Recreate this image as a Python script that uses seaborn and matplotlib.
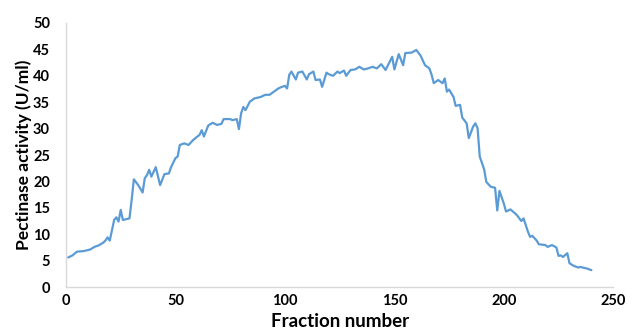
import matplotlib
matplotlib.use("Agg")
import matplotlib.pyplot as plt
import seaborn as sns
import pandas as pd

# Elution profile: fraction number vs. pectinase activity (U/ml)
fraction = [1, 3, 5, 8, 11, 13, 15, 17, 18, 19, 20, 22, 23, 24, 25, 26, 29, 30, 31, 33,
            35, 36, 37, 38, 39, 41, 43, 45, 47, 48, 50, 51, 52, 54, 56, 58, 60, 61, 62, 63,
            65, 67, 69, 71, 72, 75, 76, 78, 79, 80, 81, 82, 84, 86, 89, 91, 93, 95, 97, 98,
            100, 101, 102, 103, 105, 106, 108, 110, 111, 113, 114, 116, 117, 119, 120, 122,
            124, 125, 127, 128, 130, 132, 134, 136, 138, 140, 142, 144, 146, 149, 150, 152,
            154, 155, 158, 160, 162, 164, 166, 167, 168, 170, 172, 173, 174, 175, 177, 178,
            180, 181, 183, 184, 186, 187, 188, 189, 191, 192, 194, 196, 197, 198, 200, 201,
            203, 205, 206, 208, 209, 211, 212, 213, 215, 216, 219, 220, 222, 224, 225, 226,
            227, 229, 230, 232, 234, 235, 238, 240]
activity = [5.6, 6.0, 6.7, 6.8, 7.1, 7.6, 7.9, 8.4, 8.8, 9.4, 8.8, 12.7, 13.2, 12.4, 14.6,
            12.7, 13.0, 16.5, 20.4, 19.3, 17.9, 20.6, 21.2, 22.2, 20.9, 22.7, 19.3, 21.4,
            21.5, 22.7, 24.4, 24.7, 26.9, 27.2, 26.9, 27.8, 28.5, 28.8, 29.7, 28.5, 30.6,
            31.1, 30.7, 30.9, 31.8, 31.8, 31.6, 31.8, 29.9, 32.9, 34.1, 33.5, 35.1, 35.7,
            36.0, 36.4, 36.4, 37.0, 37.6, 37.8, 38.1, 37.6, 40.2, 40.8, 39.3, 40.6, 40.8,
            39.3, 40.3, 40.8, 39.2, 39.3, 37.9, 40.6, 40.3, 40.0, 40.8, 40.5, 41.0, 40.0,
            41.1, 41.2, 41.7, 41.2, 41.4, 41.7, 41.4, 42.2, 41.1, 43.6, 41.2, 44.1, 42.0,
            44.3, 44.4, 44.9, 43.8, 42.0, 41.4, 40.2, 38.6, 39.2, 38.6, 39.5, 37.0, 37.4,
            36.0, 34.3, 34.5, 32.1, 31.0, 28.2, 30.4, 31.0, 30.1, 24.7, 22.3, 19.9, 19.0,
            18.8, 14.5, 18.2, 15.8, 14.3, 14.7, 14.0, 13.6, 12.5, 13.0, 10.5, 9.5, 9.7, 8.8,
            8.1, 7.95, 7.6, 7.95, 7.5, 5.9, 6.0, 5.7, 6.4, 4.5, 4.0, 3.7, 3.8, 3.5, 3.2]

x_ticks = [0, 50, 100, 150, 200, 250]
y_ticks = [0, 5, 10, 15, 20, 25, 30, 35, 40, 45, 50]

df = pd.DataFrame({"Fraction number": fraction, "Pectinase activity (U/ml)": activity})

sns.set_theme(style="white")
plt.rcParams["font.family"] = ["Lato", "DejaVu Sans"]

fig = plt.figure(figsize=(6.32, 3.33), dpi=100)
ax = fig.add_axes([0.1044, 0.138, 0.866, 0.793])

sns.lineplot(data=df, x="Fraction number", y="Pectinase activity (U/ml)",
             ax=ax, color="#5b9bd5", linewidth=1.6,
             solid_joinstyle="round", solid_capstyle="round")

ax.set_xlim(0, 250)
ax.set_ylim(0, 50)
ax.set_xticks(x_ticks)
ax.set_yticks(y_ticks)
ax.tick_params(axis="both", length=0, labelsize=10.5, colors="#000000")
ax.tick_params(axis="y", pad=11.5)
ax.tick_params(axis="x", pad=5)
for lab in ax.get_xticklabels() + ax.get_yticklabels():
    lab.set_fontweight("bold")

for side in ("top", "right"):
    ax.spines[side].set_visible(False)
for side in ("left", "bottom"):
    ax.spines[side].set_color("#d9d9d9")
    ax.spines[side].set_linewidth(1.0)

ax.set_xlabel("Fraction number", fontsize=13.5, fontweight="bold", color="#000000")
ax.set_ylabel("Pectinase activity (U/ml)", fontsize=12.5, fontweight="bold", color="#000000")
ax.xaxis.set_label_coords(0.5, -0.098)
ax.yaxis.set_label_coords(-0.062, 0.5)

fig.savefig("out.png", dpi=100)
